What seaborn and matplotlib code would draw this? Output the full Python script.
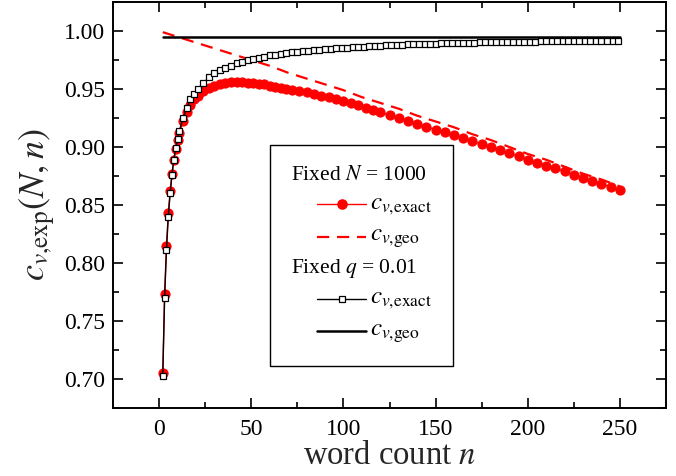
import numpy as np
import pandas as pd
import matplotlib
matplotlib.use("Agg")
import matplotlib.pyplot as plt
import seaborn as sns
from matplotlib.lines import Line2D
from matplotlib.ticker import MultipleLocator, FormatStrFormatter
from matplotlib.offsetbox import AnchoredOffsetbox, VPacker, HPacker, TextArea, DrawingArea

# ---------------- data ----------------
# Fixed N = 1000, exact (red dots)
n_N_exact = [2, 3, 4, 5, 6, 7, 8, 9, 10, 11, 13, 15, 17, 19, 21, 24, 27, 30, 33, 36,
             39, 42, 45, 48, 51, 54, 57, 60, 63, 66, 69, 72, 76, 80, 84, 88, 92, 96,
             100, 104, 108, 112, 116, 120, 125, 130, 135, 140, 145, 150, 155, 160,
             165, 170, 175, 180, 185, 190, 195, 200, 205, 210, 215, 220, 225, 230,
             235, 240, 245, 250]
c_N_exact = [0.705, 0.773, 0.815, 0.843, 0.862, 0.877, 0.889, 0.898, 0.906, 0.912,
             0.922, 0.930, 0.936, 0.941, 0.944, 0.948, 0.951, 0.953, 0.9545, 0.9555,
             0.956, 0.956, 0.956, 0.9555, 0.955, 0.9545, 0.954, 0.953, 0.952, 0.951,
             0.950, 0.949, 0.948, 0.947, 0.9455, 0.944, 0.943, 0.9415, 0.940, 0.938,
             0.936, 0.934, 0.932, 0.930, 0.9275, 0.925, 0.9225, 0.920, 0.9175, 0.915,
             0.9125, 0.910, 0.9075, 0.905, 0.9025, 0.900, 0.897, 0.8945, 0.892,
             0.889, 0.8865, 0.884, 0.8815, 0.879, 0.876, 0.8735, 0.871, 0.868,
             0.8655, 0.863]

# Fixed N = 1000, geometric approximation (red dashed)
n_N_geo = [2, 10, 20, 30, 40, 50, 60, 70, 80, 90, 100, 110, 120, 130, 140, 150, 160,
           170, 180, 190, 200, 210, 220, 230, 240, 250]
c_N_geo = [0.999, 0.995, 0.990, 0.985, 0.980, 0.975, 0.970, 0.964, 0.959, 0.954,
           0.949, 0.943, 0.938, 0.933, 0.927, 0.922, 0.917, 0.911, 0.906, 0.900,
           0.894, 0.889, 0.883, 0.877, 0.872, 0.866]

# Fixed q = 0.01, exact (open squares)
n_q_exact = [2, 3, 4, 5, 6, 7, 8, 9, 10, 11, 13, 15, 17, 19, 21, 24, 27, 30, 33, 36,
             39, 42, 45, 48, 51, 54, 57, 60, 63, 66, 69, 72, 75, 78, 81, 84, 87, 90,
             93, 96, 99, 102, 105, 108, 111, 114, 117, 120, 123, 126, 129, 132, 135,
             138, 141, 144, 147, 150, 153, 156, 159, 162, 165, 168, 171, 174, 177,
             180, 183, 186, 189, 192, 195, 198, 201, 204, 207, 210, 213, 216, 219,
             222, 225, 228, 231, 234, 237, 240, 243, 246, 249]
c_q_exact = [0.703, 0.770, 0.811, 0.840, 0.860, 0.876, 0.889, 0.899, 0.907, 0.914,
             0.925, 0.934, 0.941, 0.946, 0.950, 0.955, 0.960, 0.964, 0.966, 0.968,
             0.970, 0.972, 0.9735, 0.975, 0.976, 0.977, 0.978, 0.979, 0.9795, 0.980,
             0.981, 0.9815, 0.982, 0.9825, 0.983, 0.9835, 0.984, 0.9843, 0.9846,
             0.985, 0.9853, 0.9856, 0.986, 0.9863, 0.9866, 0.9869, 0.9872, 0.9874,
             0.9876, 0.9878, 0.988, 0.9882, 0.9884, 0.9886, 0.9888, 0.989, 0.9891,
             0.9892, 0.9894, 0.9895, 0.9896, 0.9897, 0.9898, 0.9899, 0.990, 0.9901,
             0.9902, 0.9903, 0.9904, 0.9905, 0.9906, 0.9907, 0.9907, 0.9908, 0.9909,
             0.9909, 0.991, 0.991, 0.9911, 0.9911, 0.9912, 0.9912, 0.9913, 0.9913,
             0.9914, 0.9914, 0.9915, 0.9915, 0.9916, 0.9916, 0.9917]

# Fixed q = 0.01, geometric approximation (black solid)
n_q_geo = [2, 250]
c_q_geo = [0.995, 0.995]

x_ticks = [0, 50, 100, 150, 200, 250]
y_ticks = [0.70, 0.75, 0.80, 0.85, 0.90, 0.95, 1.00]

# ---------------- style ----------------
sns.set_theme(style="ticks")
plt.rcParams["font.family"] = ["Liberation Serif", "DejaVu Serif"]
plt.rcParams["mathtext.fontset"] = "stix"
plt.rcParams["axes.linewidth"] = 1.4
plt.rcParams["xtick.direction"] = "in"
plt.rcParams["ytick.direction"] = "in"

fig = plt.figure(figsize=(6.76, 4.76), dpi=100)
ax = fig.add_axes([113 / 676, 1 - 408 / 476, (666 - 113) / 676, (408 - 2) / 476])
ax.set_facecolor("white")

sns.lineplot(x=n_N_geo, y=c_N_geo, ax=ax, color="red", lw=1.6, legend=False,
             linestyle="--", zorder=2)
ax.lines[-1].set_dashes([5.5, 3.5])
sns.lineplot(x=n_N_exact, y=c_N_exact, ax=ax, color="red", lw=1.0, marker="o",
             markersize=6.6, markeredgecolor="red", markerfacecolor="red",
             legend=False, zorder=3)
sns.lineplot(x=n_q_geo, y=c_q_geo, ax=ax, color="black", lw=1.8, legend=False, zorder=2)
sns.lineplot(x=n_q_exact, y=c_q_exact, ax=ax, color="black", lw=1.0, marker="s",
             markersize=4.6, markeredgecolor="black", markerfacecolor="white",
             markeredgewidth=0.9, legend=False, zorder=4)

ax.set_xlim(-25, 275)
ax.set_ylim(0.675, 1.025)
ax.set_xticks(x_ticks)
ax.set_yticks(y_ticks)
ax.yaxis.set_major_formatter(FormatStrFormatter("%.2f"))
ax.xaxis.set_minor_locator(MultipleLocator(25))
ax.yaxis.set_minor_locator(MultipleLocator(0.025))
ax.tick_params(which="both", direction="in", top=True, right=True, width=1.2,
               colors="black", labelsize=17)
ax.tick_params(which="major", length=7)
ax.tick_params(which="minor", length=4)
ax.tick_params(axis="x", pad=8)
ax.tick_params(axis="y", pad=6)
for s in ax.spines.values():
    s.set_color("black")
    s.set_linewidth(1.4)

ax.set_xlabel("word count $n$", fontsize=23.5, labelpad=0)
ax.set_ylabel(r"$c_{v\text{,exp}}(N,n)$", fontsize=26, labelpad=4)

# ---------------- legend (custom box) ----------------
fs = 15.5

def handle(**kw):
    da = DrawingArea(54, 14, 0, 0)
    da.add_artist(Line2D([19, 54], [7, 7], **{k: v for k, v in kw.items()
                                              if not k.startswith("marker")}))
    if "marker" in kw:
        da.add_artist(Line2D([36.5], [7], linestyle="none", **{k: v for k, v in kw.items()
                                                                if k.startswith("marker")}))
    return da

def row(hkw, label):
    return HPacker(children=[handle(**hkw),
                             TextArea(label, textprops=dict(size=18, color="black"))],
                   sep=3, align="center")

rows = [
    TextArea("Fixed $N$ = 1000", textprops=dict(size=fs, color="black")),
    row(dict(color="red", lw=1.0, marker="o", markersize=6.6, markerfacecolor="red",
             markeredgecolor="red"), r"$c_{v\text{,exact}}$"),
    row(dict(color="red", lw=1.6, linestyle=(0, (5.5, 3.5))), r"$c_{v\text{,geo}}$"),
    TextArea("Fixed $q$ = 0.01", textprops=dict(size=fs, color="black")),
    row(dict(color="black", lw=1.0, marker="s", markersize=4.6, markerfacecolor="white",
             markeredgecolor="black", markeredgewidth=0.9), r"$c_{v\text{,exact}}$"),
    row(dict(color="black", lw=1.8), r"$c_{v\text{,geo}}$"),
]
box = VPacker(children=rows, align="left", pad=0, sep=5)
anch = AnchoredOffsetbox(loc="upper left", child=box, pad=0.97, borderpad=0,
                         frameon=True, prop=dict(size=fs),
                         bbox_to_anchor=((270 - 113) / 553, (408 - 145) / 406),
                         bbox_transform=ax.transAxes)
anch.patch.set_boxstyle("square", pad=0)
anch.patch.set_edgecolor("black")
anch.patch.set_linewidth(1.0)
anch.patch.set_facecolor("white")
anch.zorder = 5
ax.add_artist(anch)

fig.savefig("out.png", dpi=100, facecolor="white")
